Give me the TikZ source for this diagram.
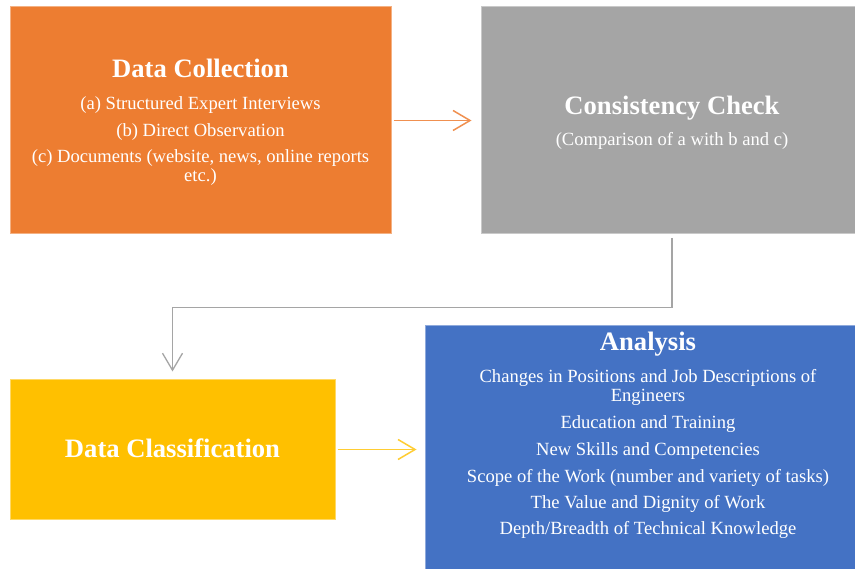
\documentclass[tikz,border=0pt]{standalone}
\usepackage{fontspec}
\setmainfont{Liberation Serif}
\usetikzlibrary{arrows.meta}
\definecolor{cOrange}{HTML}{ED7D31}
\definecolor{cGrey}{HTML}{A5A5A5}
\definecolor{cYellow}{HTML}{FFC000}
\definecolor{cBlue}{HTML}{4472C4}
\begin{document}
\begin{tikzpicture}[x=1pt,y=-1pt,
  panel/.style={rectangle, draw=#1!60!white, fill=#1, line width=1pt, inner sep=0pt},
  ttl/.style={text=white, font=\fontsize{26.6}{30}\selectfont\bfseries, anchor=base, inner sep=0pt},
  txt/.style={text=white, font=\fontsize{18.6}{19}\selectfont, anchor=base, inner sep=0pt},
  link/.style={line width=1.5pt, -{Straight Barb[length=17pt,width=20pt]}}]

% page frame
\useasboundingbox (0,0) rectangle (855,569);
\clip (0,0) rectangle (855,569);
\fill[white] (0,0) rectangle (855,569);

% boxes
\node[panel=cOrange, minimum width=381pt, minimum height=227pt] (dc)  at (200.5,120.5) {};
\node[panel=cGrey,   minimum width=382pt, minimum height=227pt] (cc)  at (672,120.5) {};
\node[panel=cYellow, minimum width=325pt, minimum height=139pt] (dcl) at (172.5,449.5) {};
\node[panel=cBlue,   minimum width=445pt, minimum height=260pt] (an)  at (648,455.5) {};

% Data Collection
\node[ttl] (dc-t) at (200.5,77.5)  {Data Collection};
\node[txt] (dc-a) at (200.5,109.5) {(a) Structured Expert Interviews};
\node[txt] (dc-b) at (200.5,136.3) {(b) Direct Observation};
\node[txt] (dc-c) at (200.5,163)   {(c) Documents (website, news, online reports};
\node[txt] (dc-d) at (200.5,182)   {etc.)};

% Consistency Check
\node[ttl] (cc-t) at (672,114.5) {Consistency Check};
\node[txt] (cc-s) at (672,146)   {(Comparison of a with b and c)};

% Data Classification
\node[ttl] (dcl-t) at (172.5,458) {Data Classification};

% Analysis
\node[ttl] (an-t) at (648,351)   {Analysis};
\node[txt] (an-1) at (648,382.8) {Changes in Positions and Job Descriptions of};
\node[txt] (an-2) at (648,401.5) {Engineers};
\node[txt] (an-3) at (648,428.2) {Education and Training};
\node[txt] (an-4) at (648,455.5) {New Skills and Competencies};
\node[txt] (an-5) at (648,482.2) {Scope of the Work (number and variety of tasks)};
\node[txt] (an-6) at (648,508.8) {The Value and Dignity of Work};
\node[txt] (an-7) at (648,534.5) {Depth/Breadth of Technical Knowledge};

% connectors
\coordinate (elbow) at (672,307.7);
\draw[link, draw=cOrange!85!white] ([xshift=2pt]dc.east) -- ([xshift=-9pt]cc.west);
\draw[link, draw=cGrey, line width=1.3pt] ([yshift=-3.5pt]cc.south) -- (elbow) -| ([yshift=8pt]dcl.north);
\draw[link, draw=cYellow!80!white] ([xshift=2pt]dcl.east) -- ([xshift=-8.5pt]dcl.east -| an.west);
\end{tikzpicture}
\end{document}
